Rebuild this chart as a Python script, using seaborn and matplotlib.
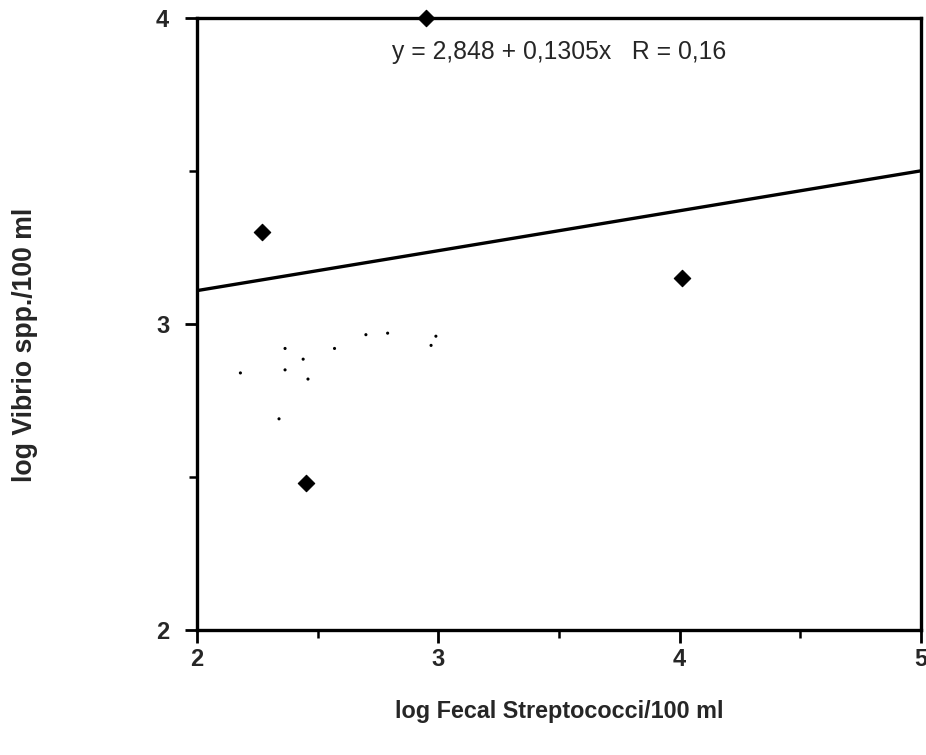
import matplotlib
matplotlib.use("Agg")
import matplotlib.pyplot as plt
import seaborn as sns
import numpy as np
import pandas as pd
from matplotlib.ticker import MultipleLocator

# data
fecal_strep = [2.27, 2.95, 4.01, 2.45]
vibrio = [3.30, 4.00, 3.15, 2.48]
# faint specks (scan residue) inside the plot
faint_x = [2.18, 2.365, 2.365, 2.34, 2.44, 2.46, 2.57, 2.70, 2.79, 2.97, 2.99]
faint_y = [2.84, 2.92, 2.85, 2.69, 2.885, 2.82, 2.92, 2.965, 2.97, 2.93, 2.96]
intercept = 2.848
slope = 0.1305
equation = "y = 2,848 + 0,1305x   R = 0,16"
x_ticks = [2, 3, 4, 5]
y_ticks = [2, 3, 4]

sns.set_theme(style="white")
plt.rcParams['font.family'] = ['Liberation Sans', 'DejaVu Sans']

fig = plt.figure(figsize=(9.26, 7.55), dpi=100)
ax = fig.add_axes([0.2127, 0.1656, 0.7819, 0.8106])

df = pd.DataFrame({"x": fecal_strep, "y": vibrio})
dff = pd.DataFrame({"x": faint_x, "y": faint_y})
sns.scatterplot(data=dff, x="x", y="y", ax=ax, color="black", s=5, marker="o",
                edgecolor="none", legend=False)
sns.scatterplot(data=df, x="x", y="y", ax=ax, color="black", s=70, marker="D",
                edgecolor="black", linewidth=0.8, legend=False, clip_on=False, zorder=5)
lx = np.array([2, 5])
sns.lineplot(x=lx, y=intercept + slope * lx, ax=ax, color="black", linewidth=2.4)

ax.set_xlim(2, 5)
ax.set_ylim(2, 4)
ax.set_xticks(x_ticks)
ax.set_yticks(y_ticks)
ax.xaxis.set_minor_locator(MultipleLocator(0.5))
ax.yaxis.set_minor_locator(MultipleLocator(0.5))
ax.set_xticklabels([str(t) for t in x_ticks], fontsize=17, fontweight="semibold")
ax.set_yticklabels([str(t) for t in y_ticks], fontsize=17, fontweight="semibold")
ax.tick_params(which="major", direction="out", length=9, width=2, color="black")
ax.tick_params(which="minor", direction="out", length=6, width=1.8, color="black")
ax.tick_params(axis="x", which="major", pad=4)
ax.tick_params(axis="y", which="major", pad=11)
ax.tick_params(axis="x", which="both", bottom=True)
ax.tick_params(axis="y", which="both", left=True)
for sp in ax.spines.values():
    sp.set_visible(True)
    sp.set_color("black")
    sp.set_linewidth(2.4)

ax.set_xlabel("log Fecal Streptococci/100 ml", fontsize=16.8, fontweight="bold", va="center")
ax.xaxis.set_label_coords(0.5, -0.134)
ax.set_ylabel("log Vibrio spp./100 ml", fontsize=19.2, fontweight="bold", va="center")
ax.yaxis.set_label_coords(-0.238, 0.466)
ax.text(0.5, 0.945, equation, transform=ax.transAxes, ha="center", va="center", fontsize=17.8)
ax.grid(False)

fig.savefig("out.png", dpi=100, facecolor="white")
